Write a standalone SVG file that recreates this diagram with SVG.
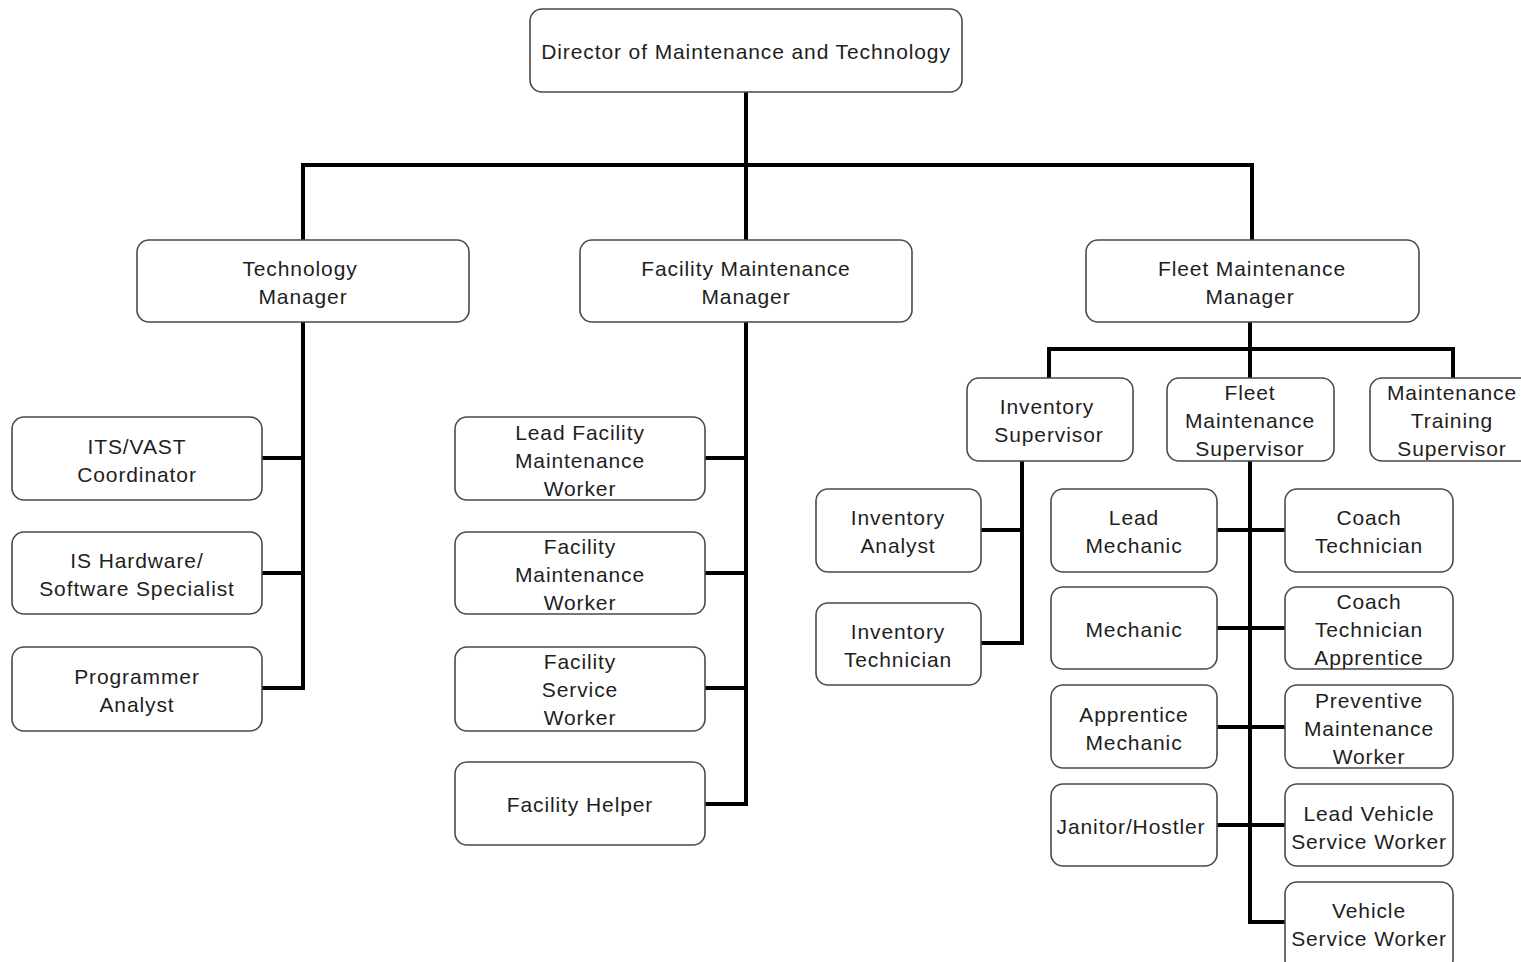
<svg xmlns="http://www.w3.org/2000/svg" width="1521" height="962" viewBox="0 0 1521 962">
  <style>
    .box { fill: #ffffff; stroke: #4a4a4a; stroke-width: 1.6; }
    .lbl { font-family: "Liberation Sans", Arial, sans-serif; font-size: 21px; letter-spacing: 0.9px; fill: #1e1e1e; text-anchor: middle; dominant-baseline: central; }
    .wire { fill: none; stroke: #000000; stroke-width: 4; stroke-linecap: square; stroke-linejoin: miter; }
  </style>
  <rect width="1521" height="962" fill="#ffffff"/>

  <!-- connectors -->
  <g id="connectors" class="wire">
    <!-- director to managers -->
    <path d="M746 92 V165 M303 165 H1252 M303 165 V240 M746 165 V240 M1252 165 V240"/>
    <!-- technology manager -->
    <path d="M303 322 V688 M262 458 H303 M262 573 H303 M262 688 H303"/>
    <!-- facility maintenance manager -->
    <path d="M746 322 V804 M705 458 H746 M705 573 H746 M705 688 H746 M705 804 H746"/>
    <!-- fleet maintenance manager -->
    <path d="M1250 322 V349 M1049 349 H1453 M1049 349 V378 M1250 349 V378 M1453 349 V378"/>
    <!-- inventory supervisor -->
    <path d="M1022 461 V643 M981 530 H1022 M981 643 H1022"/>
    <!-- fleet maintenance supervisor -->
    <path d="M1250 461 V922 M1217 530 H1285 M1217 628 H1285 M1217 727 H1285 M1217 825 H1285 M1250 922 H1285"/>
  </g>

  <g id="director">
    <rect class="box" x="530" y="9" width="432" height="83" rx="12"/>
    <text class="lbl" x="746" y="51">Director of Maintenance and Technology</text>
  </g>

  <g id="technology-manager">
    <rect class="box" x="137" y="240" width="332" height="82" rx="12"/>
    <text class="lbl" x="300" y="268">Technology</text>
    <text class="lbl" x="303" y="296">Manager</text>
  </g>
  <g id="facility-maintenance-manager">
    <rect class="box" x="580" y="240" width="332" height="82" rx="12"/>
    <text class="lbl" x="746" y="268">Facility Maintenance</text>
    <text class="lbl" x="746" y="296">Manager</text>
  </g>
  <g id="fleet-maintenance-manager">
    <rect class="box" x="1086" y="240" width="333" height="82" rx="12"/>
    <text class="lbl" x="1252" y="268">Fleet Maintenance</text>
    <text class="lbl" x="1250" y="296">Manager</text>
  </g>

  <!-- technology staff -->
  <g id="its-vast-coordinator">
    <rect class="box" x="12" y="417" width="250" height="83" rx="12"/>
    <text class="lbl" x="137" y="446">ITS/VAST</text>
    <text class="lbl" x="137" y="474">Coordinator</text>
  </g>
  <g id="is-hardware-software-specialist">
    <rect class="box" x="12" y="532" width="250" height="82" rx="12"/>
    <text class="lbl" x="137" y="560">IS Hardware/</text>
    <text class="lbl" x="137" y="588">Software Specialist</text>
  </g>
  <g id="programmer-analyst">
    <rect class="box" x="12" y="647" width="250" height="84" rx="12"/>
    <text class="lbl" x="137" y="676">Programmer</text>
    <text class="lbl" x="137" y="704">Analyst</text>
  </g>

  <!-- facility staff -->
  <g id="lead-facility-maintenance-worker">
    <rect class="box" x="455" y="417" width="250" height="83" rx="12"/>
    <text class="lbl" x="580" y="432">Lead Facility</text>
    <text class="lbl" x="580" y="460">Maintenance</text>
    <text class="lbl" x="580" y="488">Worker</text>
  </g>
  <g id="facility-maintenance-worker">
    <rect class="box" x="455" y="532" width="250" height="82" rx="12"/>
    <text class="lbl" x="580" y="546">Facility</text>
    <text class="lbl" x="580" y="574">Maintenance</text>
    <text class="lbl" x="580" y="602">Worker</text>
  </g>
  <g id="facility-service-worker">
    <rect class="box" x="455" y="647" width="250" height="84" rx="12"/>
    <text class="lbl" x="580" y="661">Facility</text>
    <text class="lbl" x="580" y="689">Service</text>
    <text class="lbl" x="580" y="717">Worker</text>
  </g>
  <g id="facility-helper">
    <rect class="box" x="455" y="762" width="250" height="83" rx="12"/>
    <text class="lbl" x="580" y="804">Facility Helper</text>
  </g>

  <!-- fleet supervisors -->
  <g id="inventory-supervisor">
    <rect class="box" x="967" y="378" width="166" height="83" rx="12"/>
    <text class="lbl" x="1047" y="406">Inventory</text>
    <text class="lbl" x="1049" y="434">Supervisor</text>
  </g>
  <g id="fleet-maintenance-supervisor">
    <rect class="box" x="1167" y="378" width="167" height="83" rx="12"/>
    <text class="lbl" x="1250" y="392">Fleet</text>
    <text class="lbl" x="1250" y="420">Maintenance</text>
    <text class="lbl" x="1250" y="448">Supervisor</text>
  </g>
  <g id="maintenance-training-supervisor">
    <rect class="box" x="1370" y="378" width="170" height="83" rx="12"/>
    <text class="lbl" x="1452" y="392">Maintenance</text>
    <text class="lbl" x="1452" y="420">Training</text>
    <text class="lbl" x="1452" y="448">Supervisor</text>
  </g>

  <!-- inventory staff -->
  <g id="inventory-analyst">
    <rect class="box" x="816" y="489" width="165" height="83" rx="12"/>
    <text class="lbl" x="898" y="517">Inventory</text>
    <text class="lbl" x="898" y="545">Analyst</text>
  </g>
  <g id="inventory-technician">
    <rect class="box" x="816" y="603" width="165" height="82" rx="12"/>
    <text class="lbl" x="898" y="631">Inventory</text>
    <text class="lbl" x="898" y="659">Technician</text>
  </g>

  <!-- fleet staff, left column -->
  <g id="lead-mechanic">
    <rect class="box" x="1051" y="489" width="166" height="83" rx="12"/>
    <text class="lbl" x="1134" y="517">Lead</text>
    <text class="lbl" x="1134" y="545">Mechanic</text>
  </g>
  <g id="mechanic">
    <rect class="box" x="1051" y="587" width="166" height="82" rx="12"/>
    <text class="lbl" x="1134" y="629">Mechanic</text>
  </g>
  <g id="apprentice-mechanic">
    <rect class="box" x="1051" y="685" width="166" height="83" rx="12"/>
    <text class="lbl" x="1134" y="714">Apprentice</text>
    <text class="lbl" x="1134" y="742">Mechanic</text>
  </g>
  <g id="janitor-hostler">
    <rect class="box" x="1051" y="784" width="166" height="82" rx="12"/>
    <text class="lbl" x="1131" y="826">Janitor/Hostler</text>
  </g>

  <!-- fleet staff, right column -->
  <g id="coach-technician">
    <rect class="box" x="1285" y="489" width="168" height="83" rx="12"/>
    <text class="lbl" x="1369" y="517">Coach</text>
    <text class="lbl" x="1369" y="545">Technician</text>
  </g>
  <g id="coach-technician-apprentice">
    <rect class="box" x="1285" y="587" width="168" height="82" rx="12"/>
    <text class="lbl" x="1369" y="601">Coach</text>
    <text class="lbl" x="1369" y="629">Technician</text>
    <text class="lbl" x="1369" y="657">Apprentice</text>
  </g>
  <g id="preventive-maintenance-worker">
    <rect class="box" x="1285" y="685" width="168" height="83" rx="12"/>
    <text class="lbl" x="1369" y="700">Preventive</text>
    <text class="lbl" x="1369" y="728">Maintenance</text>
    <text class="lbl" x="1369" y="756">Worker</text>
  </g>
  <g id="lead-vehicle-service-worker">
    <rect class="box" x="1285" y="784" width="168" height="82" rx="12"/>
    <text class="lbl" x="1369" y="813">Lead Vehicle</text>
    <text class="lbl" x="1369" y="841">Service Worker</text>
  </g>
  <g id="vehicle-service-worker">
    <rect class="box" x="1285" y="882" width="168" height="90" rx="12"/>
    <text class="lbl" x="1369" y="910">Vehicle</text>
    <text class="lbl" x="1369" y="938">Service Worker</text>
  </g>
</svg>
